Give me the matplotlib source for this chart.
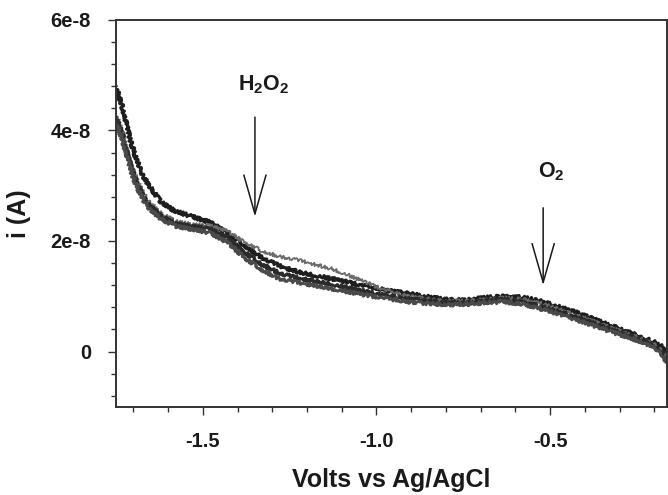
import numpy as np
import matplotlib.pyplot as plt
from matplotlib.ticker import MultipleLocator, FuncFormatter

plt.rcParams['font.family'] = ['Liberation Sans', 'DejaVu Sans']
plt.rcParams['font.weight'] = 'bold'
plt.rcParams['mathtext.fontset'] = 'custom'
plt.rcParams['mathtext.rm'] = 'Liberation Sans:bold'
plt.rcParams['mathtext.bf'] = 'Liberation Sans:bold'
plt.rcParams['mathtext.it'] = 'Liberation Sans:bold'

# Potential scan (V vs Ag/AgCl)
volts = [-1.75, -1.73, -1.71, -1.69, -1.67, -1.65, -1.62, -1.58, -1.53, -1.48,
         -1.43, -1.38, -1.33, -1.28, -1.23, -1.18, -1.13, -1.08, -1.03, -0.98,
         -0.93, -0.88, -0.83, -0.78, -0.73, -0.68, -0.63, -0.58, -0.53, -0.48,
         -0.43, -0.38, -0.33, -0.28, -0.23, -0.20, -0.18, -0.165]

# Current of each scan, in units of 1e-8 A
scan_1 = [4.80, 4.38, 3.85, 3.45, 3.15, 2.96, 2.70, 2.54, 2.44, 2.34,
          2.15, 1.92, 1.70, 1.55, 1.45, 1.38, 1.32, 1.25, 1.18, 1.12,
          1.07, 1.02, 0.97, 0.93, 0.94, 0.98, 1.00, 0.98, 0.92, 0.82,
          0.72, 0.60, 0.48, 0.37, 0.25, 0.17, 0.10, -0.05]
scan_2 = [4.30, 3.95, 3.45, 3.12, 2.85, 2.68, 2.50, 2.36, 2.30, 2.28,
          2.18, 1.98, 1.82, 1.72, 1.66, 1.58, 1.50, 1.38, 1.25, 1.12,
          1.03, 0.98, 0.93, 0.92, 0.92, 0.95, 0.97, 0.95, 0.88, 0.78,
          0.67, 0.56, 0.44, 0.33, 0.22, 0.13, 0.05, -0.12]
scan_3 = [4.25, 3.88, 3.40, 3.05, 2.78, 2.62, 2.45, 2.31, 2.26, 2.22,
          2.05, 1.80, 1.58, 1.42, 1.33, 1.28, 1.22, 1.15, 1.08, 1.02,
          0.97, 0.93, 0.90, 0.88, 0.88, 0.92, 0.94, 0.90, 0.82, 0.73,
          0.63, 0.52, 0.40, 0.30, 0.19, 0.10, 0.02, -0.15]
scan_4 = [4.15, 3.80, 3.32, 2.98, 2.72, 2.56, 2.40, 2.27, 2.21, 2.15,
          1.98, 1.70, 1.48, 1.32, 1.25, 1.20, 1.14, 1.08, 1.02, 0.97,
          0.92, 0.88, 0.86, 0.85, 0.86, 0.89, 0.90, 0.86, 0.78, 0.69,
          0.59, 0.48, 0.37, 0.27, 0.16, 0.07, -0.02, -0.18]

scans = [scan_1, scan_2, scan_3, scan_4]
scan_colors = ['#1e1e1e', '#6a6a6a', '#2a2a2a', '#4a4a4a']
scan_widths = [2.2, 1.3, 2.2, 2.0]

# Peak markers: (label, potential, arrow top, arrow tip, label height) in 1e-8 A
peak_labels = [r'H$_2$O$_2$', r'O$_2$']
peak_volts = [-1.35, -0.52]
arrow_tops = [4.24, 2.6]
arrow_tips = [2.44, 1.2]
label_heights = [4.82, 3.25]

fig = plt.figure(figsize=(6.68, 4.95), dpi=100)
ax = fig.add_axes([0.1737, 0.178, 0.825, 0.782])

for vals, c, lw in zip(scans, scan_colors, scan_widths):
    line, = ax.plot(volts, np.array(vals) * 1e-8, color=c, lw=lw,
                    solid_joinstyle='round')
    line.set_sketch_params(scale=1.7, length=2.0, randomness=3)

for lab, v, top, tip, h in zip(peak_labels, peak_volts, arrow_tops,
                               arrow_tips, label_heights):
    ax.annotate('', xy=(v, tip * 1e-8), xytext=(v, top * 1e-8),
                arrowprops=dict(arrowstyle='->, head_length=1.4, head_width=0.4',
                                mutation_scale=20, lw=1.1, color='#1a1a1a',
                                shrinkA=0, shrinkB=0))
    ax.text(v + 0.025, h * 1e-8, lab, ha='center', va='center', fontsize=15.5,
            fontweight='bold', color='#1a1a1a')

ax.set_xlim(-1.75, -0.163)
ax.set_ylim(-1e-8, 6e-8)

ax.xaxis.set_major_locator(MultipleLocator(0.5))
ax.xaxis.set_minor_locator(MultipleLocator(0.1))
ax.yaxis.set_major_locator(MultipleLocator(2e-8))
ax.yaxis.set_minor_locator(MultipleLocator(0.4e-8))
ax.xaxis.set_major_formatter(FuncFormatter(lambda x, p: f'{x:.1f}'))
ax.yaxis.set_major_formatter(
    FuncFormatter(lambda y, p: '0' if abs(y) < 1e-12 else f'{y * 1e8:.0f}e-8'))

ax.tick_params(which='both', direction='out', top=False, right=False,
               color='#333333', width=1.0)
ax.tick_params(which='major', length=6, labelsize=14.5, labelcolor='#1a1a1a')
ax.tick_params(which='minor', length=3.5)
ax.tick_params(axis='x', which='major', pad=12)
ax.tick_params(axis='y', which='major', pad=12)
for lbl in ax.get_xticklabels() + ax.get_yticklabels():
    lbl.set_fontweight('bold')

for sp in ax.spines.values():
    sp.set_linewidth(1.4)
    sp.set_color('#333333')

ax.set_xlabel('Volts vs Ag/AgCl', fontsize=18, fontweight='bold', labelpad=12,
              color='#1a1a1a')
ax.set_ylabel('i (A)', fontsize=18, fontweight='bold', labelpad=14,
              color='#1a1a1a')

fig.savefig('out.png', dpi=100)
